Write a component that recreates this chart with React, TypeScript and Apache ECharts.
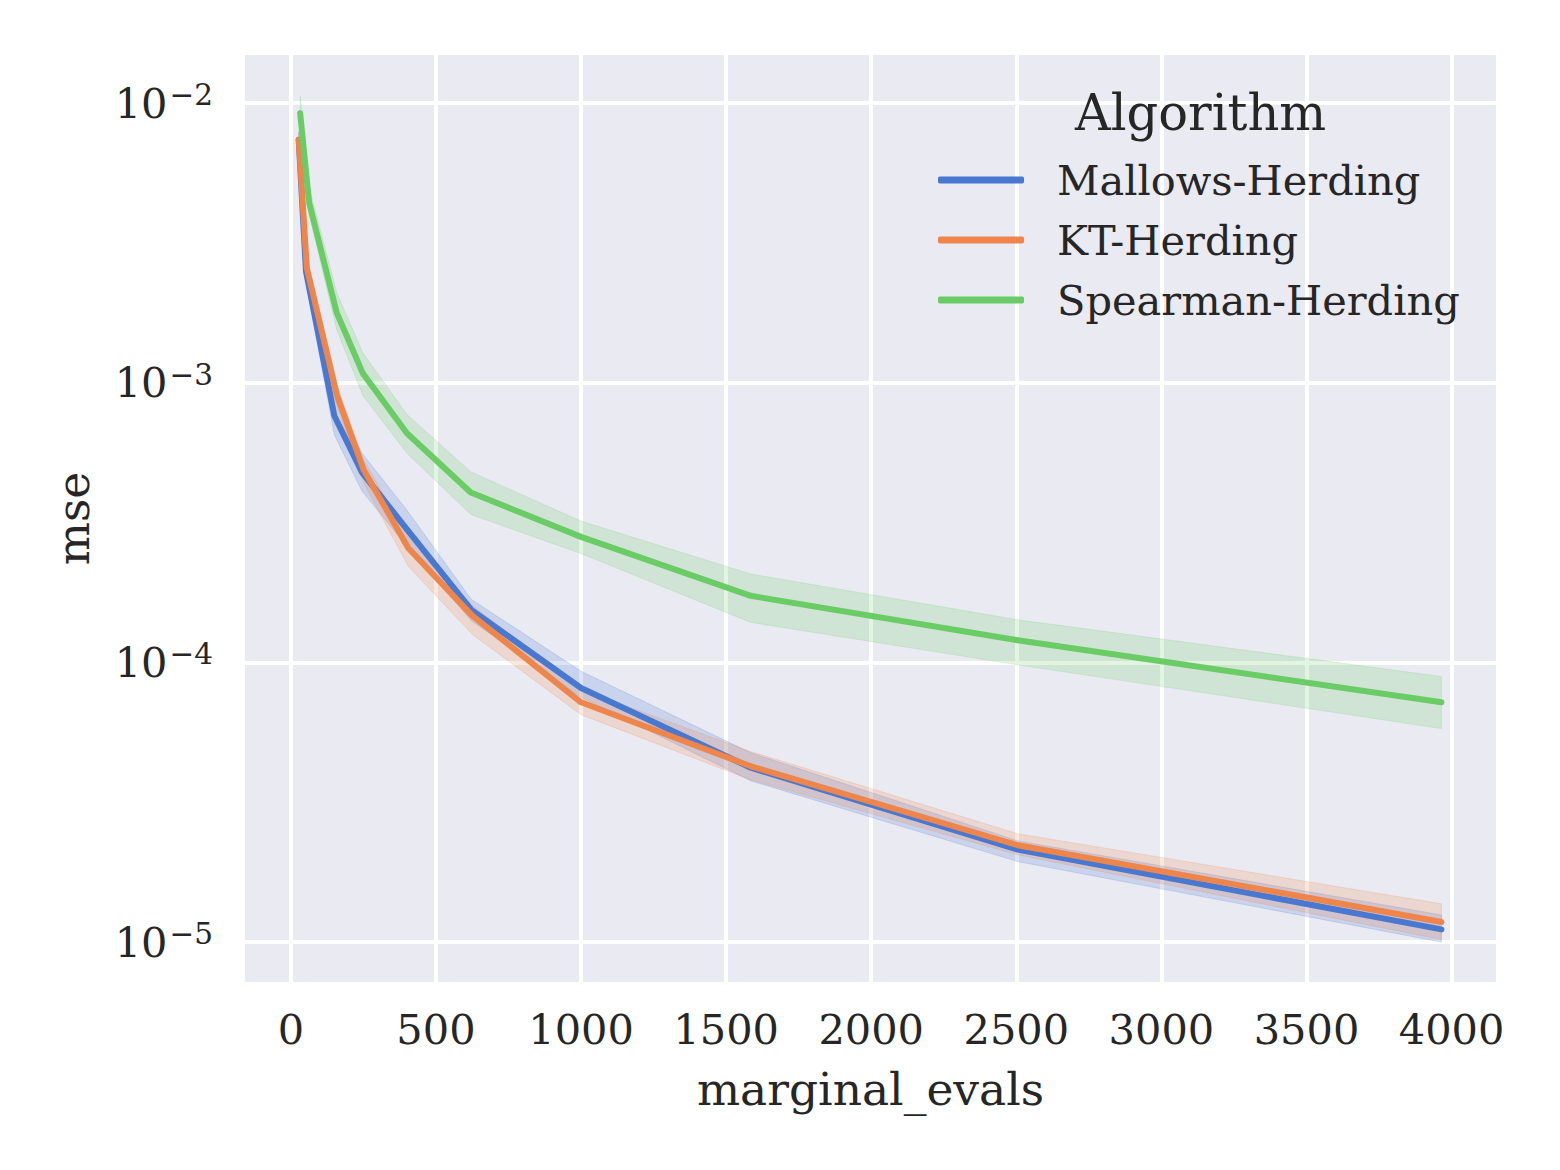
import React, { useEffect, useRef } from "react";
import * as echarts from "echarts";

const SERIES_NAMES = ["Mallows-Herding", "KT-Herding", "Spearman-Herding"];
const COLORS = ["#4878d0", "#ee854a", "#6acc64"];

const X_MALLOWS = [27, 52, 150, 245, 400, 622, 1000, 1585, 2505, 3965];
const MEAN_MALLOWS = [0.0074, 0.0025, 0.00076, 0.000478, 0.000299, 0.000154, 8.1e-5, 4.2e-5, 2.14e-5, 1.11e-5];
const LO_MALLOWS = [0.0069, 0.0023, 0.00065, 0.00041, 0.00026, 0.000141, 7.5e-5, 3.77e-5, 1.94e-5, 1.0e-5];
const HI_MALLOWS = [0.0079, 0.0027, 0.00088, 0.00056, 0.00035, 0.000168, 9.3e-5, 4.75e-5, 2.3e-5, 1.25e-5];

const X_KT = [27, 55, 159, 250, 405, 625, 1000, 1585, 2505, 3965];
const MEAN_KT = [0.0074, 0.00257, 0.0009, 0.00049, 0.000256, 0.000147, 7.2e-5, 4.25e-5, 2.22e-5, 1.18e-5];
const LO_KT = [0.0069, 0.0024, 0.00082, 0.00044, 0.00022, 0.000126, 6.5e-5, 3.8e-5, 2.05e-5, 1.02e-5];
const HI_KT = [0.0079, 0.0028, 0.00098, 0.00053, 0.00028, 0.00016, 8.0e-5, 4.8e-5, 2.44e-5, 1.37e-5];

const X_SPEARMAN = [32, 63, 158, 248, 400, 620, 1000, 1585, 2505, 3965];
const MEAN_SPEARMAN = [0.0092, 0.0044, 0.00178, 0.00108, 0.00066, 0.000405, 0.000281, 0.000173, 0.00012, 7.2e-5];
const LO_SPEARMAN = [0.0081, 0.004, 0.00155, 0.0009, 0.00056, 0.000338, 0.000245, 0.000139, 9.8e-5, 5.8e-5];
const HI_SPEARMAN = [0.0106, 0.005, 0.0021, 0.00128, 0.00077, 0.00048, 0.00032, 0.000207, 0.000142, 8.9e-5];

const X_TICK_INTERVAL = 500;
const X_MIN = -165;
const X_MAX = 4160;
const Y_MIN = Math.pow(10, -5.15);
const Y_MAX = Math.pow(10, -1.821);

const FONT = "'DejaVu Serif', serif";
const TEXT_COLOR = "#262626";

export default function App() {
  const ref = useRef<HTMLDivElement>(null);

  useEffect(() => {
    if (!ref.current) return;
    const chart = echarts.init(ref.current, null, { renderer: "svg" });

    const groups = [
      { x: X_MALLOWS, mean: MEAN_MALLOWS, lo: LO_MALLOWS, hi: HI_MALLOWS },
      { x: X_KT, mean: MEAN_KT, lo: LO_KT, hi: HI_KT },
      { x: X_SPEARMAN, mean: MEAN_SPEARMAN, lo: LO_SPEARMAN, hi: HI_SPEARMAN },
    ];

    const bandSeries = groups.map((g, k) => ({
      type: "custom",
      name: SERIES_NAMES[k] + " band",
      clip: true,
      z: 1,
      silent: true,
      data: g.x.map((x, i) => [x, g.lo[i], g.hi[i]]),
      encode: { x: 0, y: [1, 2] },
      renderItem: (params: any, api: any) => {
        if (params.dataIndex !== 0) return null;
        const upper = g.x.map((x, i) => api.coord([x, g.hi[i]]));
        const lower = g.x.map((x, i) => api.coord([x, g.lo[i]])).reverse();
        return {
          type: "polygon",
          shape: { points: upper.concat(lower) },
          style: { fill: COLORS[k], stroke: COLORS[k], lineWidth: 1, opacity: 0.2 },
        };
      },
    }));

    const lineSeries = groups.map((g, k) => ({
      type: "line",
      name: SERIES_NAMES[k],
      z: 3 + k,
      showSymbol: false,
      symbol: "none",
      data: g.x.map((x, i) => [x, g.mean[i]]),
      lineStyle: { color: COLORS[k], width: 6, cap: "round", join: "round" },
      itemStyle: { color: COLORS[k] },
      emphasis: { disabled: true },
    }));

    const option: any = {
      animation: false,
      backgroundColor: "#ffffff",
      grid: {
        left: 235,
        right: 54,
        top: 45,
        bottom: 178,
        show: true,
        backgroundColor: "#eaeaf2",
        borderWidth: 0,
      },
      xAxis: {
        type: "value",
        min: X_MIN,
        max: X_MAX,
        splitNumber: 9,
        minInterval: X_TICK_INTERVAL,
        maxInterval: X_TICK_INTERVAL,
        axisLine: { show: false },
        axisTick: { show: false },
        splitLine: { show: true, lineStyle: { color: "#ffffff", width: 4 } },
        axisLabel: {
          showMinLabel: false,
          showMaxLabel: false,
          color: TEXT_COLOR,
          fontFamily: FONT,
          fontSize: 41.5,
          margin: 24,
          formatter: (v: number) => String(v),
        },
        name: "marginal_evals",
        nameLocation: "middle",
        nameGap: 82,
        nameTextStyle: { color: TEXT_COLOR, fontFamily: FONT, fontSize: 45.5 },
      },
      yAxis: {
        type: "log",
        logBase: 10,
        min: Y_MIN,
        max: Y_MAX,
        axisLine: { show: false },
        axisTick: { show: false },
        splitLine: { show: true, lineStyle: { color: "#ffffff", width: 4 } },
        axisLabel: {
          showMinLabel: false,
          showMaxLabel: false,
          margin: 30,
          formatter: (v: number) => {
            const e = Math.round(Math.log10(v));
            return "{b|10}{s|" + (e < 0 ? "\u2212" : "") + Math.abs(e) + "}";
          },
          rich: {
            b: { fontFamily: FONT, fontSize: 41.5, color: TEXT_COLOR, lineHeight: 46 },
            s: {
              fontFamily: FONT,
              fontSize: 29.5,
              color: TEXT_COLOR,
              verticalAlign: "top",
              lineHeight: 46,
              padding: [0, 0, 20, 2],
            },
          },
        },
        name: "mse",
        nameLocation: "middle",
        nameGap: 147,
        nameTextStyle: { color: TEXT_COLOR, fontFamily: FONT, fontSize: 45.5 },
      },
      legend: {
        data: SERIES_NAMES,
        orient: "vertical",
        left: 930,
        top: 147,
        padding: 0,
        itemGap: 10,
        itemWidth: 86,
        itemHeight: 7,
        icon: "roundRect",
        selectedMode: false,
        z: 10,
        textStyle: {
          color: TEXT_COLOR,
          fontFamily: FONT,
          fontSize: 41.5,
          lineHeight: 50,
          padding: [0, 0, 0, 28],
        },
      },
      graphic: [
        {
          type: "text",
          z: 100,
          x: 1067,
          y: 105,
          style: {
            text: "Algorithm",
            fill: TEXT_COLOR,
            font: "49.5px 'DejaVu Serif', serif",
            verticalAlign: "middle",
          },
        },
      ],
      series: [...bandSeries, ...lineSeries],
    };

    chart.setOption(option);
    return () => chart.dispose();
  }, []);

  return <div ref={ref} style={{ width: 1544, height: 1154 }} />;
}
